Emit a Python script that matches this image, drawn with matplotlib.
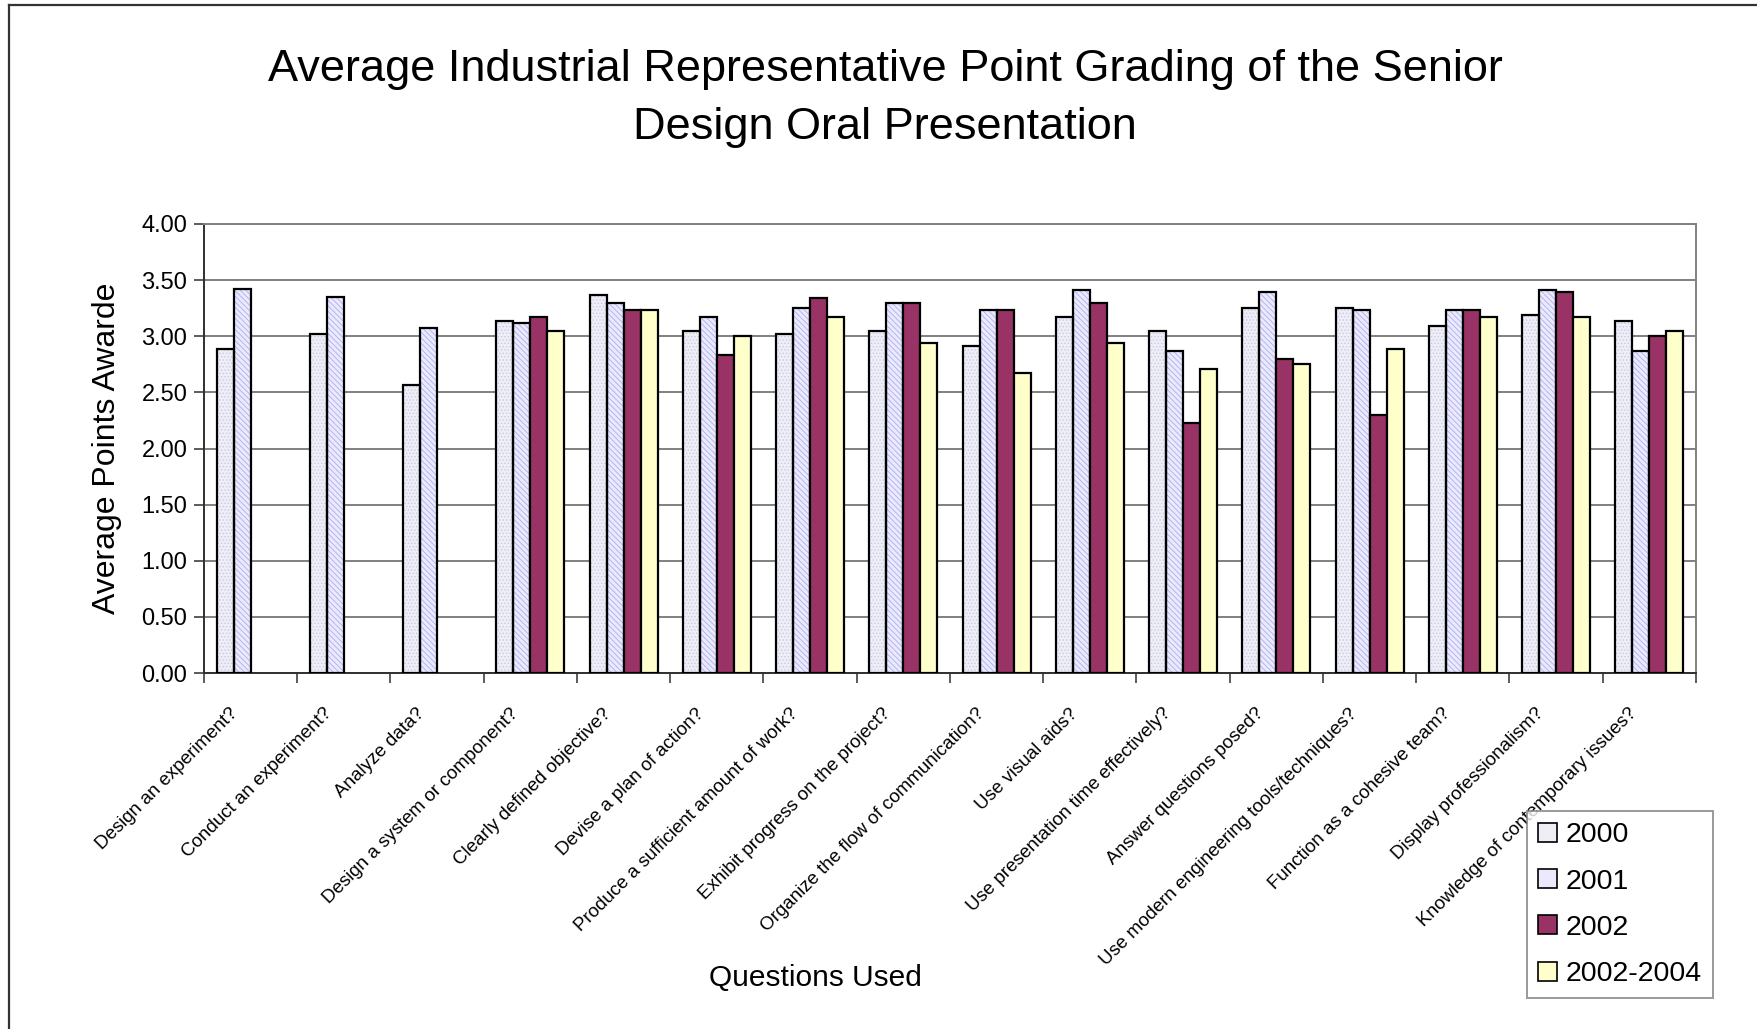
import numpy as np
import matplotlib
matplotlib.use("Agg")
import matplotlib.pyplot as plt
import matplotlib.transforms as mtransforms
from matplotlib.lines import Line2D

questions = [
    "Design an experiment?",
    "Conduct an experiment?",
    "Analyze data?",
    "Design a system or component?",
    "Clearly defined objective?",
    "Devise a plan of action?",
    "Produce a sufficient amount of work?",
    "Exhibit progress on the project?",
    "Organize the flow of communication?",
    "Use visual aids?",
    "Use presentation time effectively?",
    "Answer questions posed?",
    "Use modern engineering tools/techniques?",
    "Function as a cohesive team?",
    "Display professionalism?",
    "Knowledge of contemporary issues?",
]

nan = np.nan
pts_2000 = [2.89, 3.02, 2.57, 3.14, 3.37, 3.05, 3.02, 3.05, 2.91, 3.17, 3.05, 3.25, 3.25, 3.09, 3.19, 3.14]
pts_2001 = [3.42, 3.35, 3.07, 3.12, 3.30, 3.17, 3.25, 3.30, 3.23, 3.41, 2.87, 3.39, 3.23, 3.23, 3.41, 2.87]
pts_2002 = [nan, nan, nan, 3.17, 3.23, 2.83, 3.34, 3.30, 3.23, 3.30, 2.23, 2.80, 2.30, 3.23, 3.39, 3.00]
pts_2002_2004 = [nan, nan, nan, 3.05, 3.23, 3.00, 3.17, 2.94, 2.67, 2.94, 2.71, 2.75, 2.89, 3.17, 3.17, 3.05]

series_names = ["2000", "2001", "2002", "2002-2004"]
yticks = [0.0, 0.5, 1.0, 1.5, 2.0, 2.5, 3.0, 3.5, 4.0]

# face colour, hatch, hatch colour for each series
styles = [
    ("#EEEEF7", ".....", "#CACAE6"),
    ("#EAEAFC", "\\\\\\\\\\\\", "#ACACF0"),
    ("#993366", None, None),
    ("#FFFFCC", None, None),
]

plt.rcParams["font.family"] = ["Liberation Sans", "DejaVu Sans"]
plt.rcParams["hatch.linewidth"] = 0.6

fig = plt.figure(figsize=(17.58, 10.29), dpi=100)
ax = fig.add_axes([204 / 1758, 1 - 673 / 1029, 1492 / 1758, 449 / 1029])

n = len(questions)
x = np.arange(n)
width = 0.182
all_series = [pts_2000, pts_2001, pts_2002, pts_2002_2004]

handles = []
for i, (vals, (face, hatch, hcol)) in enumerate(zip(all_series, styles)):
    pos = x - 1.5 * width + i * width
    if hatch:
        # pattern layer first, then the black outline on top
        ax.bar(pos, vals, width, color=face, hatch=hatch, edgecolor=hcol,
               linewidth=0, zorder=2)
        ax.bar(pos, vals, width, fill=False, edgecolor="black",
               linewidth=1.6, zorder=3)
    else:
        ax.bar(pos, vals, width, color=face, edgecolor="black",
               linewidth=1.6, zorder=3)
    handles.append(plt.Rectangle((0, 0), 1, 1, facecolor=face,
                                 edgecolor="black", linewidth=1.2))

ax.set_xlim(-0.5, n - 0.5)
ax.set_ylim(0, 4.0)
ax.set_yticks(yticks)
ax.set_yticklabels([f"{v:.2f}" for v in yticks], fontsize=17)
ax.yaxis.grid(True, color="#808080", linewidth=1.4, zorder=0)
ax.set_axisbelow(True)

# category boundaries carry the tick marks, labels are placed separately
ax.set_xticks(np.arange(-0.5, n, 1.0))
ax.set_xticklabels([])
ax.tick_params(axis="x", direction="out", length=7, width=1.2, color="#404040")
ax.tick_params(axis="y", direction="out", length=7, width=1.2, color="#404040", pad=5)

for side in ("top", "right"):
    ax.spines[side].set_color("#808080")
    ax.spines[side].set_linewidth(1.4)
for side in ("left", "bottom"):
    ax.spines[side].set_color("#303030")
    ax.spines[side].set_linewidth(1.4)

offset = mtransforms.ScaledTranslation(-21 / 100, -32 / 100, fig.dpi_scale_trans)
lab_trans = mtransforms.blended_transform_factory(ax.transData, ax.transAxes) + offset
for xi, q in zip(x, questions):
    ax.text(xi, 0, q, rotation=45, ha="right", va="top", rotation_mode="anchor",
            transform=lab_trans, fontsize=13.5,
            family=["Liberation Sans Narrow", "Liberation Sans"], clip_on=False)

fig.text(885 / 1758, 1 - 69 / 1029,
         "Average Industrial Representative Point Grading of the Senior",
         ha="center", va="center", fontsize=32.5)
fig.text(885 / 1758, 1 - 127 / 1029, "Design Oral Presentation",
         ha="center", va="center", fontsize=32.5)

fig.text(107 / 1758, 1 - 448 / 1029, "Average Points Awarde", rotation=90,
         ha="center", va="center", fontsize=23)
fig.text(815 / 1758, 1 - 978 / 1029, "Questions Used",
         ha="center", va="center", fontsize=21.5)

leg = fig.legend(handles, series_names, loc="upper left",
                 bbox_to_anchor=(1527 / 1758, 1 - 811 / 1029),
                 fontsize=20.5, frameon=True, fancybox=False, shadow=False,
                 handlelength=0.65, handleheight=0.65, handletextpad=0.3,
                 labelspacing=0.71, borderpad=0.4, borderaxespad=0)
leg.get_frame().set_edgecolor("#808080")
leg.get_frame().set_linewidth(1.4)

# outer chart frame (only top and left edges fall inside the picture)
fig.add_artist(Line2D([8.5 / 1758, 8.5 / 1758], [0, 1 - 5 / 1029],
                      transform=fig.transFigure, color="#333333", linewidth=1.6))
fig.add_artist(Line2D([8.5 / 1758, 1], [1 - 5 / 1029, 1 - 5 / 1029],
                      transform=fig.transFigure, color="#333333", linewidth=1.6))

fig.savefig("out.png", dpi=100)
